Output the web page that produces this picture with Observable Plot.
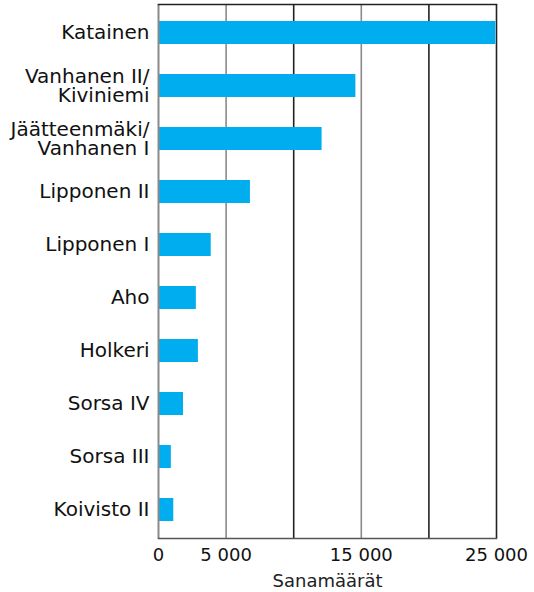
<!DOCTYPE html>
<html>
<head>
<meta charset="utf-8">
<script src="https://cdn.jsdelivr.net/npm/d3@7"></script>
<script src="https://cdn.jsdelivr.net/npm/@observablehq/plot@0.6"></script>
<style>
  html, body { margin: 0; padding: 0; background: #fff; }
  svg { display: block; }
</style>
</head>
<body>
<div id="chart"></div>
<script>
const governments = [
  "Katainen",
  "Vanhanen II/\nKiviniemi",
  "Jäätteenmäki/\nVanhanen I",
  "Lipponen II",
  "Lipponen I",
  "Aho",
  "Holkeri",
  "Sorsa IV",
  "Sorsa III",
  "Koivisto II"
];
const wordCounts = [24950, 14600, 12100, 6800, 3900, 2800, 2950, 1850, 950, 1130];
const tickValues = [0, 5000, 15000, 25000];
const gridValues = [5000, 10000, 15000, 20000, 25000];
const gridColors = ["#8a8a8a", "#222", "#8a8a8a", "#222", "#222"];
const axisLabel = "Sanamäärät";

const data = governments.map((g, i) => ({name: g, value: wordCounts[i]}));
const grid = gridValues.map((v, i) => ({v, c: gridColors[i]}));
const fmt = n => n === 0 ? "0" : d3.format(",")(n).replace(/,/g, " ");

const chart = Plot.plot({
  width: 534,
  height: 592,
  marginLeft: 158,
  marginRight: 38,
  marginTop: 4,
  marginBottom: 54,
  style: {fontFamily: "DejaVu Sans, sans-serif", color: "#111", background: "#fff"},
  x: {domain: [0, 25000]},
  y: {domain: governments, paddingInner: 0.57, paddingOuter: 0.285},
  marks: [
    Plot.ruleX(grid, {x: "v", stroke: "c", strokeWidth: 1.6}),
    Plot.barX(data, {y: "name", x: "value", fill: "#00aeef"}),
    Plot.ruleX([0], {stroke: "#8a8a8a", strokeWidth: 2}),
    Plot.frame({stroke: "#222", strokeWidth: 1.4, anchor: "top"}),
    Plot.frame({stroke: "#555", strokeWidth: 1.6, anchor: "bottom"}),
    Plot.axisX({ticks: tickValues, tickFormat: fmt, tickSize: 0, tickPadding: 10, fontSize: 18, label: null}),
    Plot.axisY({tickSize: 0, tickPadding: 9, fontSize: 20, lineHeight: 0.97, label: null}),
    Plot.text([axisLabel], {frameAnchor: "bottom", dy: 43, lineAnchor: "middle", fontSize: 18, fill: "#222"})
  ]
});
document.getElementById("chart").appendChild(chart);
</script>
</body>
</html>
